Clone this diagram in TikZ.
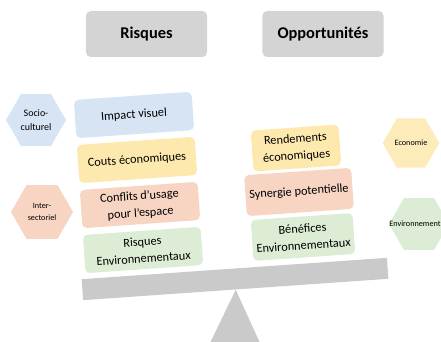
\documentclass[tikz,border=0pt]{standalone}
\usepackage{fontspec}
\setmainfont{Carlito}
\usepackage{xcolor}
\usetikzlibrary{shapes.geometric}
\definecolor{headgray}{RGB}{212, 212, 212}
\definecolor{beamgray}{RGB}{202, 202, 202}
\definecolor{softblue}{RGB}{214, 228, 243}
\definecolor{softyellow}{RGB}{253, 233, 174}
\definecolor{softsalmon}{RGB}{248, 212, 195}
\definecolor{softgreen}{RGB}{221, 236, 212}

\begin{document}
\begin{tikzpicture}[x=0.03cm, y=-0.03cm,
    header/.style={fill=headgray, rounded corners=4pt, minimum width=3.63cm, minimum height=1.38cm, font=\fontsize{14}{16}\selectfont\bfseries},
    riskbox/.style={rounded corners=4pt, rotate=4, minimum width=3.54cm, minimum height=1.15cm, align=center, font=\fontsize{10.5}{14.5}\selectfont},
    oppbox/.style={riskbox, minimum width=2.64cm, minimum height=1.23cm},
    hexa/.style={regular polygon, regular polygon sides=6, minimum size=1.8cm, inner sep=0pt},
    hextext/.style={align=center, font=\fontsize{7}{10}\selectfont}]
    \useasboundingbox (0,0) rectangle (441,342);
    \clip (0,0) rectangle (441,342);

    % Header Boxes
    \node[header] (risques) at (146.5, 34) {Risques};
    \node[header] (opport) at (323, 34) {Opportunités};

    % Balance
    \node[fill=beamgray, rotate=4, minimum width=9.18cm, minimum height=0.63cm] (beam) at (235, 279) {};
    \fill[beamgray] (beam.south) -- (260, 343) -- (210, 343) -- cycle;

    % Risk Boxes
    \node[riskbox, fill=softblue] (impact) at (134, 115) {Impact visuel};
    \node[riskbox, fill=softyellow] (couts) at (137, 160) {Couts économiques};
    \node[riskbox, fill=softsalmon] (conflits) at (140, 205) {Conflits d'usage\\pour l'espace};
    \node[riskbox, fill=softgreen] (envrisk) at (143, 250) {Risques\\Environnementaux};

    % Opportunity Boxes
    \node[oppbox, fill=softyellow] (rendements) at (296, 148) {Rendements\\économiques};
    \node[oppbox, fill=softsalmon] (synergie) at (299, 192) {Synergie potentielle};
    \node[oppbox, fill=softgreen] (benefices) at (303, 237) {Bénéfices\\Environnementaux};

    % Hexagons
    \node[hexa, fill=softblue] (socio) at (36, 120) {};
    \node[hextext, font=\fontsize{8.5}{12.5}\selectfont] (sociotext) at (socio) {Socio-\\culturel};
    \node[hexa, fill=softsalmon, minimum size=1.86cm] (inter) at (42, 212) {};
    \node[hextext] (intertext) at (inter) {Inter-\\sectoriel};
    \node[hexa, fill=softyellow!85, minimum size=1.7cm] (eco) at (411, 143) {};
    \node[hextext] (ecotext) at (eco) {Economie};
    \node[hexa, fill=softgreen] (envhex) at (419, 224) {};
    \node[hextext] (envtext) at (415, 224) {Environnement};
\end{tikzpicture}
\end{document}
